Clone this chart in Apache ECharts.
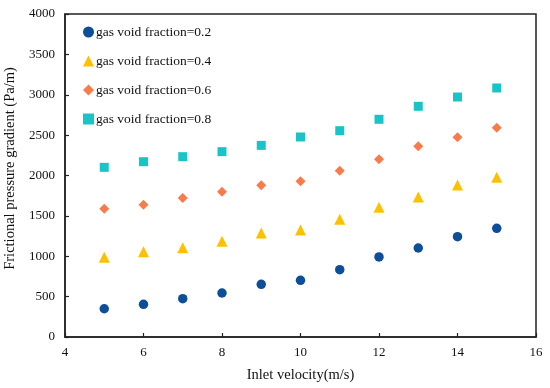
<!DOCTYPE html>
<html>
<head>
<meta charset="utf-8">
<script src="https://cdn.jsdelivr.net/npm/echarts@6/dist/echarts.min.js"></script>
<style>html,body{margin:0;padding:0;background:#fff;}#c{width:550px;height:388px;}</style>
</head>
<body>
<div id="c"></div>
<script>
const velocity = [5, 6, 7, 8, 9, 10, 11, 12, 13, 14, 15];
const frac02 = [350, 405, 475, 545, 652, 702, 834, 991, 1102, 1242, 1346];
const frac04 = [987, 1057, 1106, 1185, 1288, 1325, 1457, 1606, 1734, 1882, 1978];
const frac06 = [1589, 1639, 1721, 1800, 1879, 1928, 2060, 2200, 2361, 2473, 2592];
const frac08 = [2101, 2171, 2233, 2295, 2373, 2477, 2555, 2696, 2857, 2972, 3084];
const seriesNames = ['gas void fraction=0.2', 'gas void fraction=0.4', 'gas void fraction=0.6', 'gas void fraction=0.8'];
const xTicks = [4, 6, 8, 10, 12, 14, 16];
const yTicks = [0, 500, 1000, 1500, 2000, 2500, 3000, 3500, 4000];

const font = 'Liberation Serif, Times New Roman, serif';
const pair = arr => velocity.map((v, i) => [v, arr[i]]);
const defs = [
  {data: frac02, symbol: 'circle', size: 9.5, color: '#0D4E98'},
  {data: frac04, symbol: 'triangle', size: 11, color: '#FFC000'},
  {data: frac06, symbol: 'diamond', size: 10, color: '#F87B4C'},
  {data: frac08, symbol: 'rect', size: 9, color: '#18C4C8'}
];
const chart = echarts.init(document.getElementById('c'));
chart.setOption({
  animation: false,
  backgroundColor: '#fff',
  grid: {left: 65, right: 14, top: 14, bottom: 51, containLabel: false, outerBoundsMode: 'none',
         show: true, borderColor: '#222', borderWidth: 1.5, backgroundColor: 'transparent'},
  legend: {
    orient: 'vertical', left: 78, top: 20, itemGap: 15,
    itemWidth: 11, itemHeight: 11,
    textStyle: {fontFamily: font, fontSize: 13.5, color: '#111', padding: [0,0,0,-3]},
    data: seriesNames
  },
  xAxis: {
    type: 'value', min: xTicks[0], max: xTicks[xTicks.length-1], interval: 2,
    name: 'Inlet velocity(m/s)', nameLocation: 'middle', nameGap: 31,
    nameTextStyle: {fontFamily: font, fontSize: 14.5, color: '#111'},
    axisLine: {show: true, onZero: false, lineStyle: {color: '#222', width: 1.5}},
    axisTick: {show: true, inside: true, length: 4, lineStyle: {color: '#222', width: 1.2}},
    axisLabel: {fontFamily: font, fontSize: 13, color: '#111', margin: 9},
    splitLine: {show: false}
  },
  yAxis: {
    type: 'value', min: yTicks[0], max: yTicks[yTicks.length-1], interval: 500,
    name: 'Frictional pressure gradient (Pa/m)', nameLocation: 'middle', nameGap: 41,
    nameTextStyle: {fontFamily: font, fontSize: 14.5, color: '#111', padding: [0,0,0,14]},
    axisLine: {show: true, lineStyle: {color: '#222', width: 1.5}},
    axisTick: {show: true, inside: true, length: 4, lineStyle: {color: '#222', width: 1.2}},
    axisLabel: {fontFamily: font, fontSize: 13, color: '#111', margin: 10, formatter: v => String(v)},
    splitLine: {show: false}
  },
  series: defs.map((d, i) => ({
    name: seriesNames[i], type: 'scatter', symbol: d.symbol, symbolSize: d.size,
    itemStyle: {color: d.color, opacity: 1}, data: pair(d.data)
  }))
});
</script>
</body>
</html>
